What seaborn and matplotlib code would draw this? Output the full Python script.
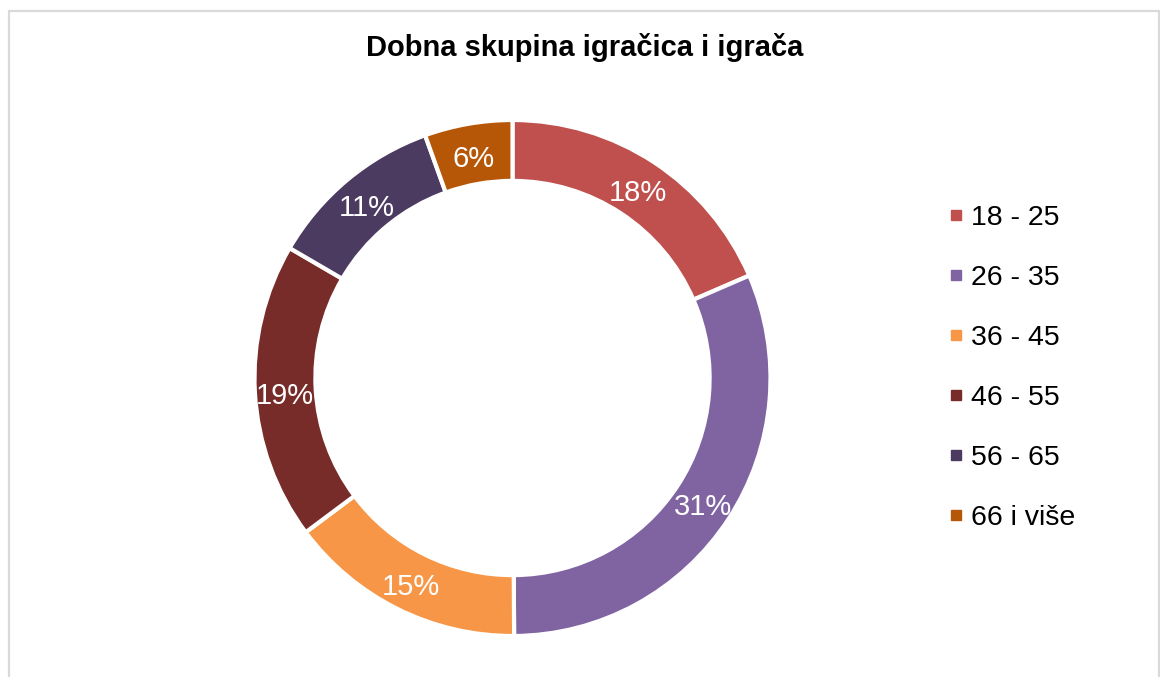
import matplotlib
matplotlib.use("Agg")
import matplotlib.pyplot as plt
from matplotlib.lines import Line2D
from matplotlib.patches import Rectangle
import seaborn as sns

# Age groups and their shares (%)
categories = ["18 - 25", "26 - 35", "36 - 45", "46 - 55", "56 - 65", "66 i više"]
shares = [18.5, 31.4, 14.9, 18.6, 11.1, 5.5]
colors = ["#C0504D", "#8064A2", "#F79646", "#772C2A", "#4B3B61", "#B65708"]
title = "Dobna skupina igračica i igrača"

sns.set_theme(style="white")
plt.rcParams["font.family"] = ["Liberation Sans", "DejaVu Sans"]
plt.rcParams["text.color"] = "black"

W, H = 1160, 677
fig = plt.figure(figsize=(W / 100, H / 100), dpi=100)
fig.patch.set_facecolor("white")

# Light grey chart frame
fig.patches.append(Rectangle((8.5 / W, -0.05), (1159 - 8.5) / W, 1.05 - 10.5 / H,
                             transform=fig.transFigure, fill=False,
                             edgecolor="#D9D9D9", linewidth=1.6, zorder=0))

# Donut axes: centre (512.5, 378) px, outer radius 258 px
cx, cy, r = 512.5, 378, 258
ax = fig.add_axes([(cx - r) / W, (H - cy - r) / H, 2 * r / W, 2 * r / H])
palette = sns.color_palette(colors)

total = sum(shares)
wedges, texts = ax.pie(
    shares, colors=palette, startangle=90, counterclock=False, radius=1.0,
    wedgeprops=dict(width=0.236, edgecolor="white", linewidth=3),
    labels=[f"{round(100 * v / total)}%" for v in shares], labeldistance=0.882,
    textprops=dict(color="white", fontsize=21, ha="center", va="center"),
)
# nudge the percentage labels slightly down inside the ring
for t in texts:
    x, y = t.get_position()
    t.set_position((x, y - 5 / r))
ax.set_xlim(-1, 1)
ax.set_ylim(-1, 1)
ax.set_aspect("equal")
ax.axis("off")

fig.text(585 / W, 1 - 47 / H, title, ha="center", va="center",
         fontsize=21, fontweight="bold", color="black")

handles = [Line2D([], [], marker="s", linestyle="none", markersize=7.5,
                  markerfacecolor=c, markeredgecolor=c) for c in palette]
leg = fig.legend(handles, categories, loc="center left",
                 bbox_to_anchor=(933 / W, 1 - 368 / H), frameon=False,
                 fontsize=20.5, labelspacing=1.19, handlelength=0.6,
                 handletextpad=0.25, borderpad=0)
for t in leg.get_texts():
    t.set_color("black")

fig.savefig("out.png", dpi=100, facecolor="white")
